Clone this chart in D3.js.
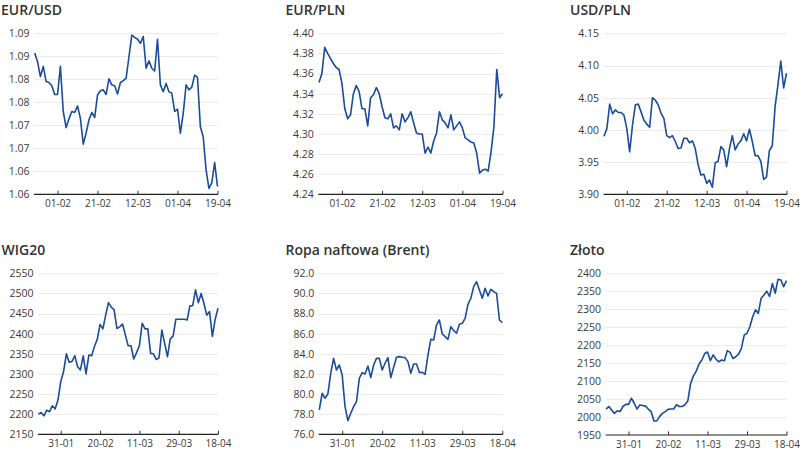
<!DOCTYPE html>
<html><head><meta charset="utf-8">
<script src="https://cdn.jsdelivr.net/npm/d3@7"></script>
<style>
html,body{margin:0;padding:0;background:#fff;}
svg{display:block;}
</style></head>
<body>
<svg id="chart" width="800" height="451"></svg>
<script>
// ---------- DATA ----------
const eurusdValues = [1.0907,1.0888,1.0856,1.0878,1.0845,1.0843,1.0836,1.0817,1.0817,1.0878,1.0780,1.0745,1.0764,1.0780,1.0778,1.0792,1.0765,1.0709,1.0733,1.0762,1.0778,1.0767,1.0816,1.0825,1.0827,1.0817,1.0851,1.0838,1.0836,1.0818,1.0843,1.0847,1.0852,1.0899,1.0946,1.0941,1.0937,1.0928,1.0943,1.0874,1.0890,1.0874,1.0868,1.0937,1.0838,1.0823,1.0841,1.0823,1.0820,1.0780,1.0785,1.0733,1.0776,1.0838,1.0827,1.0833,1.0859,1.0854,1.0747,1.0725,1.0653,1.0613,1.0625,1.0669,1.0617];
const eurplnValues = [4.351,4.360,4.386,4.380,4.375,4.370,4.366,4.364,4.350,4.325,4.315,4.319,4.340,4.348,4.342,4.325,4.325,4.308,4.336,4.339,4.346,4.340,4.327,4.316,4.315,4.320,4.306,4.308,4.304,4.320,4.312,4.316,4.322,4.311,4.301,4.300,4.300,4.281,4.287,4.281,4.293,4.301,4.322,4.314,4.311,4.306,4.319,4.304,4.308,4.312,4.306,4.296,4.294,4.292,4.291,4.281,4.261,4.264,4.265,4.263,4.282,4.307,4.364,4.336,4.340];
const usdplnValues = [3.990,4.002,4.040,4.025,4.031,4.027,4.027,4.023,4.002,3.966,4.008,4.039,4.040,4.028,4.015,4.009,4.004,4.050,4.046,4.039,4.026,4.018,3.991,3.988,3.991,3.982,3.971,3.972,3.987,3.987,3.980,3.983,3.971,3.946,3.930,3.931,3.917,3.922,3.911,3.949,3.951,3.974,3.969,3.943,3.971,3.991,3.969,3.978,3.983,3.994,3.983,4.001,3.982,3.960,3.960,3.951,3.923,3.927,3.968,3.975,4.036,4.070,4.107,4.065,4.088];
const wig20Values = [2200,2204,2196,2210,2206,2221,2213,2235,2281,2306,2350,2329,2331,2345,2318,2310,2345,2300,2347,2345,2368,2386,2423,2412,2446,2477,2466,2459,2413,2417,2424,2397,2370,2370,2337,2353,2370,2426,2412,2412,2351,2350,2336,2340,2409,2376,2343,2387,2394,2436,2436,2436,2436,2434,2469,2470,2509,2477,2500,2475,2446,2455,2393,2436,2463];
const brentValues = [78.42,80.08,79.58,80.01,82.06,83.55,82.39,82.89,81.90,78.75,77.36,78.09,78.75,79.25,81.57,82.13,82.00,82.79,81.63,82.89,83.55,83.55,82.39,83.06,83.62,81.63,82.66,83.65,83.72,83.65,83.62,83.22,82.06,82.99,82.99,82.13,82.16,81.96,83.88,85.44,85.37,86.87,87.36,85.97,85.71,85.44,86.70,86.30,86.04,86.93,87.03,87.53,88.92,89.52,90.68,91.17,90.34,89.52,90.51,89.75,90.41,90.18,90.01,87.36,87.10];
const zlotoValues = [2022,2029,2019,2010,2017,2015,2029,2035,2035,2052,2038,2022,2033,2032,2030,2022,2015,1989,1989,2001,2010,2015,2021,2022,2022,2034,2029,2029,2034,2044,2093,2114,2127,2147,2158,2176,2180,2156,2172,2160,2153,2158,2156,2184,2179,2162,2167,2174,2190,2227,2232,2250,2278,2297,2287,2329,2338,2349,2334,2370,2343,2382,2380,2361,2378];

const topTickIndex = [8,22,36,50,64];
const topTickLabels = ["01-02","21-02","12-03","01-04","19-04"];
const bottomTickIndex = [8,22,36,50,64];
const bottomTickLabels = ["31-01","20-02","11-03","29-03","18-04"];

const eurusdTicks = [1.060,1.065,1.070,1.075,1.080,1.085,1.090,1.095];
const eurusdTickLabels = ["1.06","1.06","1.07","1.07","1.08","1.08","1.09","1.09"];
const eurplnTicks = [4.24,4.26,4.28,4.30,4.32,4.34,4.36,4.38,4.40];
const eurplnTickLabels = ["4.24","4.26","4.28","4.30","4.32","4.34","4.36","4.38","4.40"];
const usdplnTicks = [3.90,3.95,4.00,4.05,4.10,4.15];
const usdplnTickLabels = ["3.90","3.95","4.00","4.05","4.10","4.15"];
const wig20Ticks = [2150,2200,2250,2300,2350,2400,2450,2500,2550];
const wig20TickLabels = ["2150","2200","2250","2300","2350","2400","2450","2500","2550"];
const brentTicks = [76,78,80,82,84,86,88,90,92];
const brentTickLabels = ["76.0","78.0","80.0","82.0","84.0","86.0","88.0","90.0","92.0"];
const zlotoTicks = [1950,2000,2050,2100,2150,2200,2250,2300,2350,2400];
const zlotoTickLabels = ["1950","2000","2050","2100","2150","2200","2250","2300","2350","2400"];

const titles = ["EUR/USD","EUR/PLN","USD/PLN","WIG20","Ropa naftowa (Brent)","Złoto"];

// ---------- LAYOUT ----------
const panels = [
  {title:titles[0], values:eurusdValues, ticks:eurusdTicks, tickLabels:eurusdTickLabels, xTicks:topTickIndex, xLabels:topTickLabels,
   titleX:1, titleY:15, x0:34, x1:218, lx0:34.7, lx1:217.5, y0:194.3, y1:33.3},
  {title:titles[1], values:eurplnValues, ticks:eurplnTicks, tickLabels:eurplnTickLabels, xTicks:topTickIndex, xLabels:topTickLabels,
   titleX:285.5, titleY:15, x0:318.3, x1:503, lx0:319, lx1:502.5, y0:194.3, y1:33.3},
  {title:titles[2], values:usdplnValues, ticks:usdplnTicks, tickLabels:usdplnTickLabels, xTicks:topTickIndex, xLabels:topTickLabels,
   titleX:570, titleY:15, x0:603.5, x1:787, lx0:604, lx1:786.5, y0:194.3, y1:33.3},
  {title:titles[3], values:wig20Values, ticks:wig20Ticks, tickLabels:wig20TickLabels, xTicks:bottomTickIndex, xLabels:bottomTickLabels,
   titleX:1.5, titleY:255, x0:38, x1:218.3, lx0:38.3, lx1:218, y0:434.3, y1:273.3},
  {title:titles[4], values:brentValues, ticks:brentTicks, tickLabels:brentTickLabels, xTicks:bottomTickIndex, xLabels:bottomTickLabels,
   titleX:285.5, titleY:255, x0:318.7, x1:503, lx0:319.3, lx1:502.3, y0:434.3, y1:273.3},
  {title:titles[5], values:zlotoValues, ticks:zlotoTicks, tickLabels:zlotoTickLabels, xTicks:bottomTickIndex, xLabels:bottomTickLabels,
   titleX:570, titleY:255, x0:605.5, x1:787, lx0:606, lx1:786.5, y0:435, y1:272.7}
];

const svg = d3.select("#chart");
const lineColor = "#1a4c9b";
const tickFont = "'Open Sans', 'Noto Sans', sans-serif";

panels.forEach(p => {
  const g = svg.append("g");
  const x = d3.scaleLinear().domain([0, p.values.length - 1]).range([p.lx0, p.lx1]);
  const y = d3.scaleLinear().domain([p.ticks[0], p.ticks[p.ticks.length - 1]]).range([p.y0, p.y1]);

  // title
  g.append("text").attr("x", p.titleX).attr("y", p.titleY)
    .attr("font-family", "'Open Sans', 'Noto Sans', sans-serif").attr("font-size", 14).attr("font-weight", 600)
    .attr("fill", "#333").text(p.title);

  // y labels via axis
  const yAxis = d3.axisLeft(y).tickValues(p.ticks).tickSize(0).tickPadding(0)
    .tickFormat((d, i) => p.tickLabels[i]);
  const ya = g.append("g").attr("transform", `translate(${p.x0 - 4.5},0)`).call(yAxis);
  ya.select(".domain").remove();
  ya.selectAll("text").attr("font-family", tickFont).attr("font-size", 10.5).attr("fill", "#3a3a3a");

  // gridlines
  g.append("g").selectAll("line").data(p.ticks.slice(1)).join("line")
    .attr("x1", p.x0).attr("x2", p.x1)
    .attr("y1", d => Math.round(y(d)) + 0.5).attr("y2", d => Math.round(y(d)) + 0.5)
    .attr("stroke", "#ebebeb").attr("stroke-width", 1);

  // x axis
  const xAxis = d3.axisBottom(x).tickValues(p.xTicks).tickSize(0).tickPadding(6)
    .tickFormat((d, i) => p.xLabels[i]);
  const xa = g.append("g").attr("transform", `translate(0,${p.y0})`).call(xAxis);
  xa.select(".domain").remove();
  xa.selectAll("text").attr("font-family", tickFont).attr("font-size", 10).attr("fill", "#3a3a3a");
  xa.selectAll(".tick").append("line").attr("y1", 0).attr("y2", -3.5).attr("stroke", "#333").attr("stroke-width", 1);
  g.append("line").attr("x1", p.x0).attr("x2", p.x1).attr("y1", p.y0).attr("y2", p.y0)
    .attr("stroke", "#222").attr("stroke-width", 1.2);

  // line
  const line = d3.line().x((d, i) => x(i)).y(d => y(d));
  g.append("path").datum(p.values).attr("d", line)
    .attr("fill", "none").attr("stroke", lineColor).attr("stroke-width", 1.6)
    .attr("stroke-linejoin", "round");
});
</script>
</body></html>
